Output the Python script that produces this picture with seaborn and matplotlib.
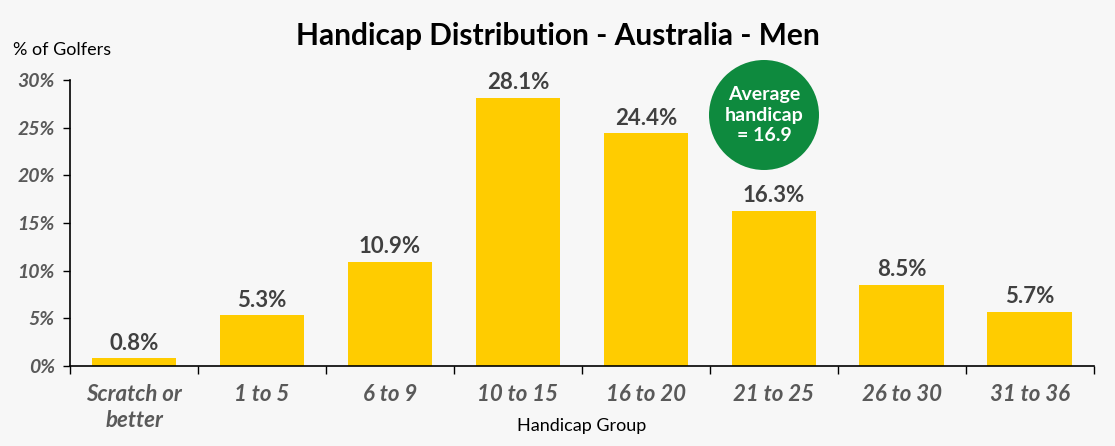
import numpy as np
import seaborn as sns
import matplotlib.pyplot as plt
import pandas as pd
from matplotlib.patches import Ellipse
from matplotlib.ticker import FixedLocator, PercentFormatter

# dane
grupy = ['Scratch or\nbetter', '1 to 5', '6 to 9', '10 to 15', '16 to 20',
         '21 to 25', '26 to 30', '31 to 36']
procent = [0.8, 5.3, 10.9, 28.1, 24.4, 16.3, 8.5, 5.7]
y_ticks = [0, 5, 10, 15, 20, 25, 30]

df = pd.DataFrame({'grupa': grupy, 'procent': procent})

sns.set_style('white')
plt.rcParams['font.family'] = ['Lato', 'DejaVu Sans']
tlo = '#f7f7f7'

fig = plt.figure(figsize=(11.15, 4.46), dpi=100, facecolor=tlo)
ax = fig.add_axes([0.0628, 0.1794, 0.918, 0.6412], facecolor=tlo)

sns.barplot(data=df, x='grupa', y='procent', color='#ffcc00', saturation=1,
            width=0.66, linewidth=0, ax=ax)

# etykiety nad słupkami
for i, v in enumerate(procent):
    ax.text(i, v + 0.5, f'{v:.1f}%', ha='center', va='bottom',
            fontsize=16, fontweight='bold', color='#404040')

ax.set_xlim(-0.5, len(grupy) - 0.5)
ax.set_ylim(0, 30)
ax.set_yticks(y_ticks)
ax.yaxis.set_major_formatter(PercentFormatter(decimals=0))
for lab in ax.get_yticklabels():
    lab.set_fontstyle('italic')
    lab.set_fontweight('bold')
    lab.set_color('#595959')
    lab.set_fontsize(14)
ax.tick_params(axis='y', length=5, width=1, color='black', pad=6, left=True)

# kreski na granicach kategorii
ax.xaxis.set_minor_locator(FixedLocator(np.arange(-0.5, len(grupy), 1.0)))
ax.tick_params(axis='x', which='major', length=0, pad=13)
ax.tick_params(axis='x', which='minor', length=6, width=1, color='black',
               bottom=True)
for lab in ax.get_xticklabels():
    lab.set_fontstyle('italic')
    lab.set_fontweight('bold')
    lab.set_color('#595959')
    lab.set_fontsize(16)
    lab.set_linespacing(1.3)

ax.set_xlabel('Handicap Group', fontsize=13, color='black', va='center')
ax.xaxis.set_label_coords(0.5, -0.21)
ax.set_ylabel('')
for s in ['top', 'right']:
    ax.spines[s].set_visible(False)
for s in ['left', 'bottom']:
    ax.spines[s].set_color('black')
    ax.spines[s].set_linewidth(1.2)

fig.text(0.012, 0.888, '% of Golfers', fontsize=13, color='black',
         va='center', ha='left')
fig.text(0.5, 0.92, 'Handicap Distribution - Australia - Men', fontsize=21.5,
         fontweight='bold', ha='center', va='center', color='black')

# zielone kółko ze średnią
fig.add_artist(Ellipse((764 / 1115, 1 - 115 / 446), width=110 / 1115,
                       height=110 / 446, transform=fig.transFigure,
                       facecolor='#0e8a3e', edgecolor='none'))
fig.text(764 / 1115, 1 - 115 / 446, 'Average\nhandicap\n= 16.9', fontsize=14,
         fontweight='bold', color='white', ha='center', va='center',
         linespacing=1.25)

fig.savefig('out.png', dpi=100, facecolor=tlo)
